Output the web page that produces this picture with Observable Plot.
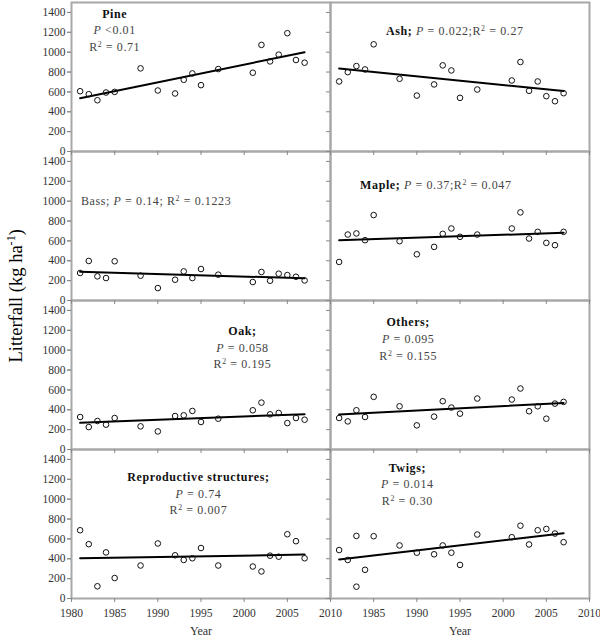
<!DOCTYPE html>
<html><head><meta charset="utf-8">
<script src="https://cdn.jsdelivr.net/npm/d3@7"></script>
<script src="https://cdn.jsdelivr.net/npm/@observablehq/plot@0.6"></script>
<style>body{margin:0;background:#fff}</style>
</head><body><div id="chart"></div>
<script>
const years = [1981,1982,1983,1984,1985,1988,1990,1992,1993,1994,1995,1997,2001,2002,2003,2004,2005,2006,2007];
const twigYears = [1981,1982,1983,1983,1984,1985,1988,1990,1992,1993,1994,1995,1997,2001,2002,2003,2004,2005,2006,2007];
const pine   = [607,577,516,594,600,837,614,584,722,786,668,830,793,1073,907,975,1191,921,894];
const ash    = [705,799,860,826,1079,732,563,675,867,816,540,624,715,901,611,705,557,506,587];
const bass   = [277,398,243,226,395,250,125,209,293,226,317,260,186,287,199,270,256,239,202];
const maple  = [388,664,675,607,860,597,465,540,671,725,641,664,725,887,624,691,580,557,691];
const oak    = [327,226,287,250,317,233,182,337,344,388,277,310,395,472,354,368,266,317,300];
const others = [317,283,395,327,530,435,243,331,486,422,361,513,503,614,385,435,310,462,479];
const repro  = [687,547,123,464,206,332,554,435,388,405,508,332,322,272,431,421,647,577,405];
const twigs  = [488,388,630,119,289,627,534,461,445,534,461,338,644,617,733,544,687,700,654,567];

const panelNames = ["Pine","Ash","Bass","Maple","Oak","Others","Reproductive structures","Twigs"];
const annotTexts = [
  "*Pine*\n_P_ <0.01\nR^2 = 0.71",
  "*Ash;* _P_ = 0.022;R^2 = 0.27",
  "Bass; _P_ = 0.14; R^2 = 0.1223",
  "*Maple;* _P_ = 0.37;R^2 = 0.047",
  "*Oak;*\n_P_ = 0.058\nR^2 = 0.195",
  "*Others;*\n_P_ = 0.095\nR^2 = 0.155",
  "*Reproductive structures;*\n_P_ = 0.74\nR^2 = 0.007",
  "*Twigs;*\n_P_ = 0.014\nR^2 = 0.30"
];
// annotation anchor positions in data units (year, kg ha-1)
const annotYear  = [1985.0, 1994.4, 1989.8, 1992.2, 1999.8, 1989.0, 1994.7, 1988.9];
const annotValue = [1233, 1228, 1014, 1177, 1040, 1126, 1070, 1162];

const yTicks = [0,200,400,600,800,1000,1200,1400];
const xTicksLeft = [1980,1985,1990,1995,2000,2005,2010];
const xTicksRight = [1985,1990,1995,2000,2005,2010];
const yTitle = "Litterfall (kg ha^-1)";
const xTitle = "Year";

const seriesValues = [pine, ash, bass, maple, oak, others, repro, twigs];
const seriesYears = [years, years, years, years, years, years, years, twigYears];

const table = [];
seriesValues.forEach((vals, i) => {
  vals.forEach((v, j) => table.push({panel: panelNames[i], col: i % 2, row: Math.floor(i / 2), year: seriesYears[i][j], value: v}));
});
const annots = annotTexts.map((t, i) => ({text: t, col: i % 2, row: Math.floor(i / 2), year: annotYear[i], value: annotValue[i]}));
const xLabels = [
  ...xTicksLeft.map(y => ({col: 0, row: 3, year: y})),
  ...xTicksRight.map(y => ({col: 1, row: 3, year: y}))
];

const chart = Plot.plot({
  width: 600, height: 641,
  marginLeft: 70, marginRight: 11, marginTop: 2, marginBottom: 43,
  style: {fontFamily: "Liberation Serif", fontSize: "11px", color: "#222", background: "#fff"},
  fx: {domain: [0, 1], padding: 0, axis: null},
  fy: {domain: [0, 1, 2, 3], padding: 0, axis: null},
  x: {domain: [1980, 2010]},
  y: {domain: [0, 1500]},
  marks: [
    Plot.frame({stroke: "#a8a8a8", strokeWidth: 2}),
    Plot.axisX({facetAnchor: null, ticks: xTicksLeft, tickSize: 4, stroke: "#888", fill: "none", label: null}),
    Plot.axisY({facetAnchor: null, ticks: yTicks, tickSize: 4, stroke: "#888", fill: "none", label: null}),
    Plot.axisY({ticks: yTicks, tickSize: 4, tickPadding: 2, tickFormat: d => String(d), stroke: "#888", fill: "#333", fontSize: 11.5, label: null}),
    Plot.text(xLabels, {x: "year", fx: "col", fy: "row", text: d => String(d.year), frameAnchor: "bottom", dy: 18, fontSize: 11.5, fill: "#333"}),
    Plot.text([{col: 0, row: 3}, {col: 1, row: 3}], {fx: "col", fy: "row", text: () => xTitle, frameAnchor: "bottom", dy: 36, fontSize: 12, fill: "#333"}),
    Plot.linearRegressionY(table, {x: "year", y: "value", fx: "col", fy: "row", ci: 0, stroke: "#000", strokeWidth: 2}),
    Plot.dot(table, {x: "year", y: "value", fx: "col", fy: "row", r: 2.8, stroke: "#111", strokeWidth: 1, fill: "none"}),
    Plot.text(annots, {x: "year", y: "value", fx: "col", fy: "row", text: "text", lineHeight: 1.4, fontSize: 12, fill: "#444"}),
    Plot.text([yTitle], {facet: "super", frameAnchor: "left", rotate: -90, dx: -55, dy: 62, fontSize: 18.5, fill: "#000", text: d => d})
  ]
});

function rich(el) {
  const s = el.textContent;
  if (!/[*_^]/.test(s)) return;
  const parts = s.split(/(\*[^*]+\*|_[^_]+_|\^-?\d+)/).filter(p => p !== "");
  el.textContent = "";
  for (const p of parts) {
    const t = document.createElementNS("http://www.w3.org/2000/svg", "tspan");
    if (p.startsWith("*")) { t.textContent = p.slice(1, -1); t.setAttribute("font-weight", "bold"); t.setAttribute("fill", "#111"); }
    else if (p.startsWith("_")) { t.textContent = p.slice(1, -1); t.setAttribute("font-style", "italic"); }
    else if (p.startsWith("^")) { t.textContent = p.slice(1); t.setAttribute("baseline-shift", "super"); t.setAttribute("font-size", "65%"); }
    else t.textContent = p;
    el.appendChild(t);
  }
}
chart.querySelectorAll("text").forEach(text => {
  const isAnnot = /_P_/.test(text.textContent);
  if (isAnnot) text.style.letterSpacing = "0.6px";
  const spans = text.querySelectorAll(":scope > tspan");
  if (spans.length) spans.forEach(rich); else rich(text);
});
document.getElementById("chart").appendChild(chart);
</script>
</body></html>
